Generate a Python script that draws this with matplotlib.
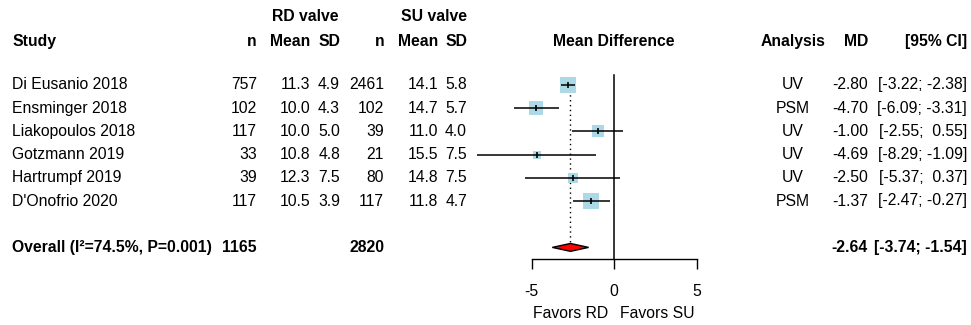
import matplotlib
matplotlib.use("Agg")
import matplotlib.pyplot as plt
from matplotlib.transforms import blended_transform_factory
import numpy as np

plt.rcParams["font.family"] = ["Liberation Sans", "DejaVu Sans"]
plt.rcParams["axes.unicode_minus"] = False
FS = 11.3

studies = ["Di Eusanio 2018", "Ensminger 2018", "Liakopoulos 2018",
           "Gotzmann 2019", "Hartrumpf 2019", "D'Onofrio 2020"]
rd_n = [757, 102, 117, 33, 39, 117]
rd_mean = [11.3, 10.0, 10.0, 10.8, 12.3, 10.5]
rd_sd = [4.9, 4.3, 5.0, 4.8, 7.5, 3.9]
su_n = [2461, 102, 39, 21, 80, 117]
su_mean = [14.1, 14.7, 11.0, 15.5, 14.8, 11.8]
su_sd = [5.8, 5.7, 4.0, 7.5, 7.5, 4.7]
analysis = ["UV", "PSM", "UV", "UV", "UV", "PSM"]
md = [-2.80, -4.70, -1.00, -4.69, -2.50, -1.37]
ci_lo = [-3.22, -6.09, -2.55, -8.29, -5.37, -2.47]
ci_hi = [-2.38, -3.31, 0.55, -1.09, 0.37, -0.27]
weights = [26.7, 17.6, 15.0, 6.7, 10.4, 23.5]  # estimated from square sizes

overall_label = "Overall (I\u00b2=74.5%, P=0.001)"
overall_rd_n = 1165
overall_su_n = 2820
overall_md = -2.64
overall_lo = -3.74
overall_hi = -1.54

W, H = 971, 325
fig = plt.figure(figsize=(W / 100, H / 100), dpi=100)

# forest axes: x pixel = 614 + 16.5 * md, bottom spine at y pixel 259
x0, x1 = -9, 6
px_left = 614 + 16.5 * x0
px_right = 614 + 16.5 * x1
ax = fig.add_axes([px_left / W, (H - 259) / H, (px_right - px_left) / W, 259 / H])
row_h = 23.2
ax.set_xlim(x0, x1)
ax.set_ylim((259 - 85) / row_h, -85 / row_h)
ax.patch.set_visible(False)
for s in ["top", "right", "left"]:
    ax.spines[s].set_visible(False)
ax.spines["bottom"].set_bounds(-5, 5)
ax.spines["bottom"].set_linewidth(1.0)
ax.set_yticks([])
ax.set_xticks([-5, 0, 5])
ax.tick_params(axis="x", length=7, width=1.0, pad=11, labelsize=FS)

rows = np.arange(len(studies))
overall_row = 7

# zero line and overall dotted line
ax.axvline(0, ymin=0, ymax=(7.5 + 0.43) / (7.5 + 85 / row_h), color="black", lw=1.1)
ax.vlines(overall_md, 0, overall_row, colors="black", linestyles=(0, (1, 2.5)), lw=1.0)

# squares, CIs, point ticks
for i in rows:
    ax.plot(md[i], i, marker="s", color="#ADD8E6", markeredgewidth=0,
            markersize=0.72 * 3.1 * np.sqrt(weights[i]), zorder=2)
    ax.hlines(i, ci_lo[i], ci_hi[i], colors="black", lw=1.1, zorder=3)
    ax.plot(md[i], i, marker="|", color="black", markersize=4, markeredgewidth=1.2, zorder=4)

# diamond
dh = 0.17
ax.fill([overall_lo, overall_md, overall_hi, overall_md],
        [overall_row, overall_row - dh, overall_row, overall_row + dh],
        facecolor="red", edgecolor="black", lw=1.0, zorder=3)

tr = blended_transform_factory(fig.transFigure, ax.transData)


def txt(px, row, s, ha="right", bold=False):
    ax.text(px / W, row, s, transform=tr, ha=ha, va="center", fontsize=FS,
            fontweight="bold" if bold else "normal", clip_on=False)


hdr1 = (17 - 85) / row_h
hdr2 = (42 - 85) / row_h
txt(305, hdr1, "RD valve", ha="center", bold=True)
txt(434, hdr1, "SU valve", ha="center", bold=True)
txt(12, hdr2, "Study", ha="left", bold=True)
for px, s in [(257, "n"), (310, "Mean"), (340, "SD"), (384, "n"), (438, "Mean"), (467, "SD")]:
    txt(px, hdr2, s, bold=True)
txt(614, hdr2, "Mean Difference", ha="center", bold=True)
txt(793, hdr2, "Analysis", ha="center", bold=True)
txt(868, hdr2, "MD", bold=True)
txt(967, hdr2, "[95% CI]", bold=True)

for i in rows:
    txt(12, i, studies[i], ha="left")
    txt(257, i, f"{rd_n[i]}")
    txt(310, i, f"{rd_mean[i]:.1f}")
    txt(340, i, f"{rd_sd[i]:.1f}")
    txt(384, i, f"{su_n[i]}")
    txt(438, i, f"{su_mean[i]:.1f}")
    txt(467, i, f"{su_sd[i]:.1f}")
    txt(793, i, analysis[i], ha="center")
    txt(868, i, f"{md[i]:.2f}")
    hi = f"{ci_hi[i]:.2f}" if ci_hi[i] < 0 else f" {ci_hi[i]:.2f}"
    txt(967, i, f"[{ci_lo[i]:.2f}; {hi}]")

txt(12, overall_row, overall_label, ha="left", bold=True)
txt(257, overall_row, f"{overall_rd_n}", bold=True)
txt(384, overall_row, f"{overall_su_n}", bold=True)
txt(868, overall_row, f"{overall_md:.2f}", bold=True)
txt(967, overall_row, f"[{overall_lo:.2f}; {overall_hi:.2f}]", bold=True)

fav_row = (313 - 85) / row_h
ax.text(-2.6, fav_row, "Favors RD", ha="center", va="center", fontsize=FS, clip_on=False)
ax.text(2.6, fav_row, "Favors SU", ha="center", va="center", fontsize=FS, clip_on=False)

fig.savefig("out.png", dpi=100)
